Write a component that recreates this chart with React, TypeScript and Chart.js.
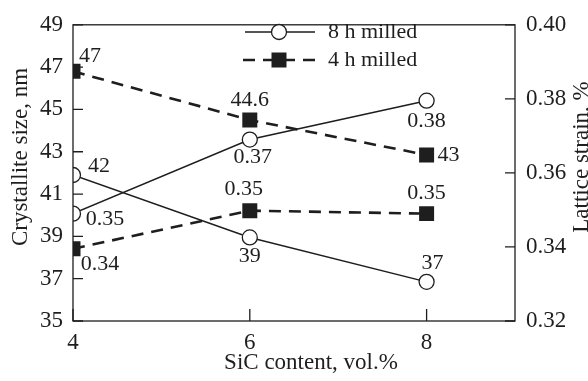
import React, { useEffect, useRef } from 'react';
import { Chart, registerables } from 'chart.js';

Chart.register(...registerables);

// ---- data ----
const xValues = [4, 6, 8];
const xTicks = [4, 6, 8];
const sizeTicks = [35, 37, 39, 41, 43, 45, 47, 49];
const strainTicks = [0.32, 0.34, 0.36, 0.38, 0.4];

const size8h = [41.9, 38.95, 36.85];
const strain8h = [0.349, 0.369, 0.3795];
const size4h = [46.8, 44.5, 42.85];
const strain4h = [0.3395, 0.3498, 0.349];

const size8hLabels = ['42', '39', '37'];
const strain8hLabels = ['0.35', '0.37', '0.38'];
const size4hLabels = ['47', '44.6', '43'];
const strain4hLabels = ['0.34', '0.35', '0.35'];

const seriesNames = ['8 h milled', '4 h milled'];
const xTitle = 'SiC content, vol.%';
const yTitle = 'Crystallite size, nm';
const y2Title = 'Lattice strain, %';

const FONT = '"Liberation Serif", "Times New Roman", serif';
const INK = '#1e1e1e';

const toPts = (ys: number[]) => xValues.map((x, i) => ({ x, y: ys[i] }));

const labelOffsets: Record<string, number[][]> = {
  size8h: [[26, -9], [0, 19], [6, -19]],
  strain8h: [[32, 6], [3, 18], [0, 21]],
  size4h: [[17, -15], [0, -20], [22, 0]],
  strain4h: [[27, 15], [-6, -21], [0, -20]],
};

const decorPlugin = {
  id: 'decor',
  afterDatasetsDraw(chart: any) {
    const { ctx, chartArea: a, scales } = chart;
    ctx.save();
    // frame
    ctx.strokeStyle = INK;
    ctx.lineWidth = 1.3;
    ctx.strokeRect(a.left, a.top, a.right - a.left, a.bottom - a.top);
    // inward ticks
    ctx.beginPath();
    sizeTicks.forEach((v) => {
      const y = scales.y.getPixelForValue(v);
      ctx.moveTo(a.left, y);
      ctx.lineTo(a.left + 10, y);
    });
    strainTicks.forEach((v) => {
      const y = scales.y2.getPixelForValue(v);
      ctx.moveTo(a.right, y);
      ctx.lineTo(a.right - 10, y);
    });
    xTicks.forEach((v) => {
      const x = scales.x.getPixelForValue(v);
      ctx.moveTo(x, a.bottom);
      ctx.lineTo(x, a.bottom - 12);
    });
    ctx.stroke();

    // point value labels
    ctx.fillStyle = INK;
    ctx.font = `22px ${FONT}`;
    ctx.textAlign = 'center';
    ctx.textBaseline = 'middle';
    chart.data.datasets.forEach((ds: any, di: number) => {
      const meta = chart.getDatasetMeta(di);
      const offs = labelOffsets[ds.key];
      meta.data.forEach((pt: any, i: number) => {
        ctx.fillText(ds.pointLabels[i], pt.x + offs[i][0], pt.y + offs[i][1]);
      });
    });

    // legend
    const rows = [
      { name: seriesNames[0], y: 32, dash: [] as number[], lw: 1.5, style: 'circle' },
      { name: seriesNames[1], y: 60, dash: [12, 8], lw: 2.6, style: 'rect' },
    ];
    rows.forEach((r) => {
      ctx.beginPath();
      ctx.setLineDash(r.dash);
      ctx.lineWidth = r.lw;
      ctx.strokeStyle = INK;
      ctx.moveTo(r.style === 'rect' ? 243 : 245, r.y);
      ctx.lineTo(315, r.y);
      ctx.stroke();
      ctx.setLineDash([]);
      if (r.style === 'circle') {
        ctx.beginPath();
        ctx.arc(279, r.y, 7.5, 0, Math.PI * 2);
        ctx.fillStyle = '#fff';
        ctx.fill();
        ctx.lineWidth = 1.3;
        ctx.stroke();
      } else {
        ctx.fillStyle = INK;
        ctx.fillRect(279 - 7.5, r.y - 7.5, 15, 15);
      }
      ctx.fillStyle = INK;
      ctx.textAlign = 'left';
      ctx.fillText(r.name, 328, r.y);
    });

    // axis titles
    ctx.font = `23px ${FONT}`;
    ctx.textAlign = 'center';
    ctx.textBaseline = 'middle';
    ctx.fillText(xTitle, 311, 363);
    ctx.save();
    ctx.translate(21, 157);
    ctx.rotate(-Math.PI / 2);
    ctx.fillText(yTitle, 0, 0);
    ctx.restore();
    ctx.save();
    ctx.translate(582, 157);
    ctx.rotate(-Math.PI / 2);
    ctx.fillText(y2Title, 0, 0);
    ctx.restore();
    ctx.restore();
  },
};

export default function App() {
  const ref = useRef<HTMLCanvasElement>(null);
  useEffect(() => {
    if (!ref.current) return;
    const solid = (key: string, data: number[], labels: string[], axis: string) => ({
      key,
      pointLabels: labels,
      data: toPts(data),
      yAxisID: axis,
      borderColor: INK,
      borderWidth: 1.5,
      pointStyle: 'circle',
      pointRadius: 7.5,
      pointBorderWidth: 1.3,
      pointBackgroundColor: '#fff',
      pointBorderColor: INK,
      tension: 0,
    });
    const dashed = (key: string, data: number[], labels: string[], axis: string) => ({
      key,
      pointLabels: labels,
      data: toPts(data),
      yAxisID: axis,
      borderColor: INK,
      borderWidth: 2.6,
      borderDash: [12, 8],
      pointStyle: 'rect',
      pointRadius: 10.6,
      pointBorderWidth: 0,
      pointBackgroundColor: INK,
      pointBorderColor: INK,
      tension: 0,
    });
    const tickFont = { family: FONT, size: 23 };
    const chart = new Chart(ref.current, {
      type: 'line',
      data: {
        datasets: [
          solid('size8h', size8h, size8hLabels, 'y'),
          solid('strain8h', strain8h, strain8hLabels, 'y2'),
          dashed('size4h', size4h, size4hLabels, 'y'),
          dashed('strain4h', strain4h, strain4hLabels, 'y2'),
        ] as any,
      },
      options: {
        animation: false,
        responsive: false,
        events: [],
        layout: { padding: { top: 14, left: 0, right: 0, bottom: 0 } },
        plugins: { legend: { display: false }, tooltip: { enabled: false } },
        scales: {
          x: {
            type: 'linear',
            min: 4,
            max: 9,
            grid: { display: false, drawTicks: false },
            border: { display: false },
            afterBuildTicks: (s: any) => { s.ticks = xTicks.map((v) => ({ value: v })); },
            afterFit: (s: any) => { s.height = 60; },
            ticks: { font: tickFont, color: INK, padding: 8, callback: (v: any) => String(v) },
          },
          y: {
            type: 'linear',
            position: 'left',
            min: 35,
            max: 49,
            grid: { display: false, drawTicks: false },
            border: { display: false },
            afterBuildTicks: (s: any) => { s.ticks = sizeTicks.map((v) => ({ value: v })); },
            afterFit: (s: any) => { s.width = 73; },
            ticks: { font: tickFont, color: INK, padding: 10, callback: (v: any) => String(v) },
          },
          y2: {
            type: 'linear',
            position: 'right',
            min: 0.32,
            max: 0.4,
            grid: { display: false, drawTicks: false },
            border: { display: false },
            afterBuildTicks: (s: any) => { s.ticks = strainTicks.map((v) => ({ value: v })); },
            afterFit: (s: any) => { s.width = 73; },
            ticks: { font: tickFont, color: INK, padding: 11, callback: (v: any) => Number(v).toFixed(2) },
          },
        },
      } as any,
      plugins: [decorPlugin],
    });
    return () => chart.destroy();
  }, []);
  return (
    <div style={{ position: 'absolute', left: 0, top: 0, width: 588, height: 381, background: '#fff' }}>
      <canvas ref={ref} width={588} height={381} />
    </div>
  );
}
